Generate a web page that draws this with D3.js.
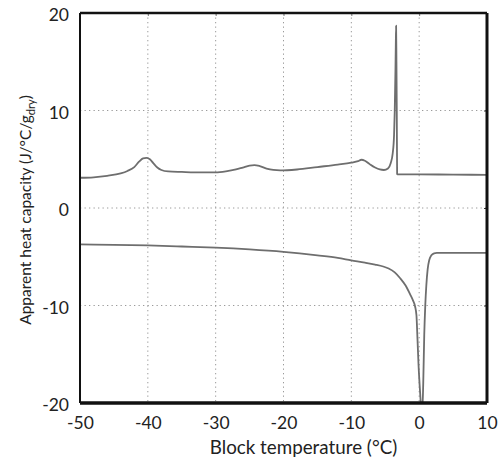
<!DOCTYPE html>
<html>
<head>
<meta charset="utf-8">
<script src="https://cdn.jsdelivr.net/npm/d3@7"></script>
<style>
  body { margin: 0; background: #fff; }
  text { font-family: Lato, "Open Sans", sans-serif; fill: #222; }
</style>
</head>
<body>
<div id="chart"></div>
<script>
const SVG_WIDTH = 499;
const SVG_HEIGHT = 463;
const MARGIN = { top: 13, right: 12, bottom: 60, left: 80 };

const xTicks = [-50, -40, -30, -20, -10, 0, 10];
const yTicks = [-20, -10, 0, 10, 20];

// upper curve (warming)
const upperT = [-50, -48, -46, -44, -43, -42, -41.3, -40.7, -40.2, -39.7, -39.2, -38.6, -38, -37, -35, -32, -30, -28.5, -27, -26, -25, -24.3, -23.5, -22.5, -21.5, -20.5, -18, -15, -12, -10, -9, -8.5, -8, -7.3, -6.5, -5.8, -5.2, -4.6, -4.2, -3.9, -3.7, -3.6, -3.5, -3.45, -3.4, -3.35, -3.3, -3.25, -3.2, 0, 5, 10];
const upperC = [3.1, 3.15, 3.3, 3.55, 3.8, 4.2, 4.75, 5.1, 5.15, 5.0, 4.6, 4.15, 3.9, 3.75, 3.7, 3.65, 3.65, 3.75, 3.95, 4.15, 4.35, 4.4, 4.3, 4.05, 3.9, 3.85, 3.95, 4.2, 4.45, 4.65, 4.8, 4.95, 4.85, 4.5, 4.15, 3.95, 3.9, 4.05, 4.6, 5.6, 7.5, 10, 14, 16.5, 18.7, 15, 10, 3.5, 3.45, 3.45, 3.42, 3.4];

// lower curve (cooling)
const lowerT = [-50, -45, -40, -35, -30, -25, -20, -15, -12, -10, -8, -6.5, -5.3, -4.5, -3.6, -2.8, -2, -1.3, -0.9, -0.6, -0.4, -0.25, -0.1, 0.1, 0.3, 0.45, 0.6, 0.75, 0.9, 1.05, 1.25, 1.5, 1.8, 2.2, 2.6, 5, 10];
const lowerC = [-3.73, -3.78, -3.84, -3.95, -4.07, -4.25, -4.5, -4.86, -5.12, -5.37, -5.6, -5.8, -6.0, -6.2, -6.6, -7.2, -7.95, -8.9, -9.5, -10.1, -11, -13.4, -16, -18.5, -20.5, -21, -18, -13, -10, -8, -6.3, -5.3, -4.85, -4.65, -4.6, -4.6, -4.6];

const svg = d3.select("#chart").append("svg")
    .attr("width", SVG_WIDTH)
    .attr("height", SVG_HEIGHT);

svg.append("rect").attr("width", SVG_WIDTH).attr("height", SVG_HEIGHT).attr("fill", "#fff");

const x = d3.scaleLinear()
    .domain([-50, 10])
    .range([MARGIN.left, SVG_WIDTH - MARGIN.right]);

const y = d3.scaleLinear()
    .domain([-20, 20])
    .range([SVG_HEIGHT - MARGIN.bottom, MARGIN.top]);

// grid
const grid = svg.append("g")
    .attr("stroke", "#9a9a9a")
    .attr("stroke-width", 1)
    .attr("stroke-dasharray", "1.3,3.2");

grid.selectAll(".vx")
    .data(xTicks.slice(1, -1))
    .enter().append("line")
    .attr("x1", d => x(d)).attr("x2", d => x(d))
    .attr("y1", y(20)).attr("y2", y(-20));

grid.selectAll(".hy")
    .data(yTicks.slice(1, -1))
    .enter().append("line")
    .attr("x1", x(-50)).attr("x2", x(10))
    .attr("y1", d => y(d)).attr("y2", d => y(d));

svg.append("defs").append("clipPath").attr("id", "clip")
    .append("rect")
    .attr("x", x(-50)).attr("y", y(20))
    .attr("width", x(10) - x(-50)).attr("height", y(-20) - y(20));

const line = d3.line()
    .curve(d3.curveMonotoneX)
    .x(d => x(d[0]))
    .y(d => y(d[1]));

const plot = svg.append("g").attr("clip-path", "url(#clip)");

plot.append("path")
    .datum(d3.zip(upperT, upperC))
    .attr("fill", "none")
    .attr("stroke", "#6e6e6e")
    .attr("stroke-width", 1.8)
    .attr("stroke-linejoin", "round")
    .attr("d", line);

plot.append("path")
    .datum(d3.zip(lowerT, lowerC))
    .attr("fill", "none")
    .attr("stroke", "#6e6e6e")
    .attr("stroke-width", 1.8)
    .attr("stroke-linejoin", "round")
    .attr("d", line);

// small inner ticks on top and right
svg.append("g")
    .attr("transform", `translate(0,${y(20)})`)
    .call(d3.axisBottom(x).tickValues(xTicks.slice(1, -1)).tickSize(3).tickFormat(""))
    .call(g => g.select(".domain").remove())
    .selectAll("line").attr("stroke", "#777");

svg.append("g")
    .attr("transform", `translate(${x(10)},0)`)
    .call(d3.axisLeft(y).tickValues(yTicks.slice(1, -1)).tickSize(3).tickFormat(""))
    .call(g => g.select(".domain").remove())
    .selectAll("line").attr("stroke", "#333");

// axes labels
svg.append("g")
    .attr("transform", `translate(0,${y(-20)})`)
    .call(d3.axisBottom(x).tickValues(xTicks).tickSize(0).tickPadding(14).tickFormat(d => String(d)))
    .call(g => g.select(".domain").remove())
    .selectAll("text")
    .attr("font-size", 17.5)
    .attr("font-family", "Lato, sans-serif")
    .attr("fill", "#222");

svg.append("g")
    .attr("transform", `translate(${x(-50)},0)`)
    .call(d3.axisLeft(y).tickValues(yTicks).tickSize(0).tickPadding(11).tickFormat(d => String(d)))
    .call(g => g.select(".domain").remove())
    .selectAll("text")
    .attr("dy", "0.45em")
    .attr("font-size", 17.5)
    .attr("font-family", "Lato, sans-serif")
    .attr("fill", "#222");

// frame
svg.append("line").attr("x1", x(-50)).attr("x2", x(10)).attr("y1", y(20)).attr("y2", y(20))
    .attr("stroke", "#111").attr("stroke-width", 2.5);
svg.append("line").attr("x1", x(-50)).attr("x2", x(10)).attr("y1", y(-20)).attr("y2", y(-20))
    .attr("stroke", "#111").attr("stroke-width", 3.5);
svg.append("line").attr("x1", x(-50)).attr("x2", x(-50)).attr("y1", y(20)).attr("y2", y(-20))
    .attr("stroke", "#111").attr("stroke-width", 2);
svg.append("line").attr("x1", x(10)).attr("x2", x(10)).attr("y1", y(20)).attr("y2", y(-20))
    .attr("stroke", "#111").attr("stroke-width", 3);

// titles
svg.append("text")
    .attr("x", 303.5)
    .attr("y", 454)
    .attr("text-anchor", "middle")
    .attr("font-size", 18.8)
    .text("Block temperature (°C)");

const yTitle = svg.append("text")
    .attr("transform", `translate(31,${210}) rotate(-90)`)
    .attr("text-anchor", "middle")
    .attr("font-size", 15.5);
yTitle.append("tspan").text("Apparent heat capacity (J/°C/g");
yTitle.append("tspan").attr("font-size", 11).attr("dy", 4).text("dry");
yTitle.append("tspan").attr("dy", -4).text(")");
</script>
</body>
</html>
